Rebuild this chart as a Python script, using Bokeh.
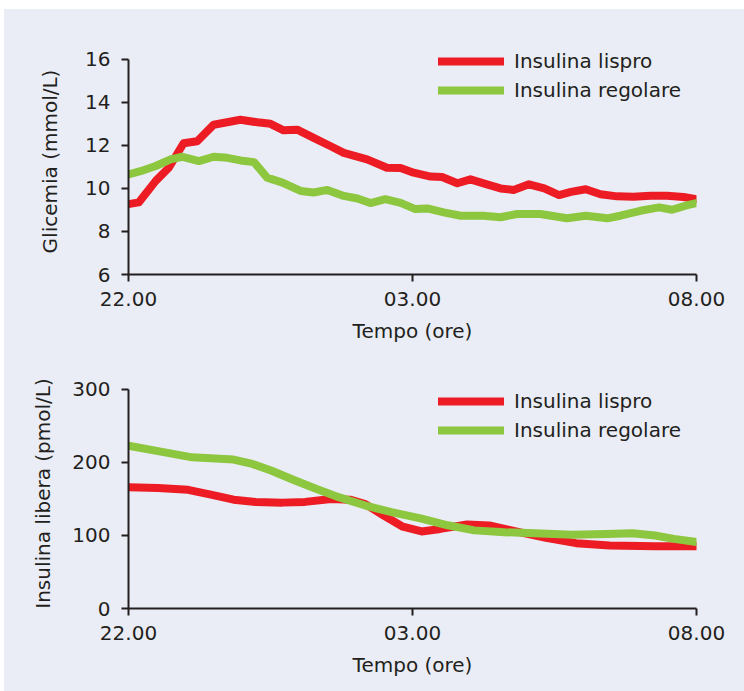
from bokeh.plotting import figure
from bokeh.models import Range1d, FixedTicker, Legend, LegendItem
from bokeh.layouts import column
from bokeh.embed import file_html
from bokeh.resources import INLINE

# ---- data (hours after 22.00) ----
glic_lispro_t = [0, 0.18, 0.48, 0.71, 0.97, 1.21, 1.50, 1.97, 2.27, 2.50, 2.73, 2.97, 3.26, 3.56, 3.79,
                 4.20, 4.55, 4.79, 5.02, 5.32, 5.52, 5.79, 6.02, 6.31, 6.55, 6.78, 7.05, 7.32, 7.58,
                 7.79, 8.05, 8.31, 8.60, 8.89, 9.19, 9.48, 9.77, 10.0]
glic_lispro_v = [9.27, 9.35, 10.35, 10.96, 12.1, 12.19, 12.96, 13.19, 13.07, 13.0, 12.7, 12.73, 12.35,
                 11.96, 11.65, 11.35, 10.96, 10.95, 10.73, 10.55, 10.53, 10.24, 10.42, 10.19, 10.0,
                 9.93, 10.19, 10.0, 9.69, 9.84, 9.96, 9.73, 9.63, 9.61, 9.66, 9.66, 9.6, 9.5]

glic_reg_t = [0, 0.21, 0.48, 0.74, 0.95, 1.24, 1.50, 1.74, 1.97, 2.21, 2.44, 2.71, 3.03, 3.26, 3.50,
              3.79, 4.03, 4.26, 4.52, 4.79, 5.05, 5.26, 5.55, 5.85, 6.25, 6.55, 6.84, 7.25, 7.72,
              8.05, 8.43, 8.66, 9.01, 9.34, 9.57, 9.84, 10.0]
glic_reg_v = [10.65, 10.8, 11.04, 11.35, 11.47, 11.27, 11.47, 11.42, 11.3, 11.22, 10.5, 10.27, 9.88,
              9.81, 9.93, 9.65, 9.53, 9.32, 9.5, 9.33, 9.04, 9.07, 8.89, 8.73, 8.73, 8.66, 8.81,
              8.81, 8.61, 8.73, 8.61, 8.73, 8.96, 9.12, 9.01, 9.22, 9.32]

ins_lispro_t = [0, 0.52, 1.05, 1.45, 1.85, 2.24, 2.71, 3.11, 3.57, 3.90, 4.17, 4.50, 4.83, 5.16,
                5.49, 5.96, 6.35, 6.82, 7.35, 7.88, 8.47, 9.27, 10.0]
ins_lispro_v = [166, 165, 162.5, 156, 149, 146, 145, 146, 150, 149, 143, 127, 112, 105.5,
                109, 115, 113.7, 105.5, 96.8, 89.5, 86.3, 85.3, 85.3]

ins_reg_t = [0, 0.52, 1.12, 1.85, 2.18, 2.51, 2.91, 3.30, 3.70, 4.17, 4.63, 5.16, 5.62, 6.09, 6.62,
             7.15, 7.81, 8.41, 8.87, 9.27, 9.60, 10.0]
ins_reg_v = [223, 215.5, 207, 204, 198, 189, 176, 164, 152.5, 141, 132, 123, 114, 107, 104.5,
             103, 101, 102, 103, 100, 95.4, 91]

x_ticks = [0, 5, 10]
x_tick_labels = ["22.00", "03.00", "08.00"]
glic_ticks = [6, 8, 10, 12, 14, 16]
ins_ticks = [0, 100, 200, 300]
series_names = ["Insulina lispro", "Insulina regolare"]

RED = "#ed1c24"
GREEN = "#8dc63f"
BG = "#eaedf5"
INK = "#231f20"
FONT = "DejaVu Sans"
FS = "20px"


def make_fig(height, top, bottom, yr, ybounds, yticks, ylabel, ylab_standoff):
    p = figure(width=740, height=height, output_backend="svg", toolbar_location=None,
               x_range=Range1d(0, 10), y_range=Range1d(*yr),
               min_border_left=124, min_border_right=48,
               min_border_top=top, min_border_bottom=bottom)
    p.background_fill_color = BG
    p.border_fill_color = BG
    p.outline_line_color = None
    p.xgrid.visible = False
    p.ygrid.visible = False
    p.xaxis.ticker = FixedTicker(ticks=x_ticks)
    p.xaxis.major_label_overrides = {t: l for t, l in zip(x_ticks, x_tick_labels)}
    p.yaxis.ticker = FixedTicker(ticks=yticks)
    p.yaxis.bounds = ybounds
    p.xaxis.axis_label = "Tempo (ore)"
    p.yaxis.axis_label = ylabel
    for ax in (p.xaxis[0], p.yaxis[0]):
        ax.axis_line_color = INK
        ax.axis_line_width = 2
        ax.major_tick_line_color = INK
        ax.major_tick_line_width = 2
        ax.major_tick_out = 7
        ax.major_tick_in = 0
        ax.minor_tick_line_color = None
        ax.major_label_text_font = FONT
        ax.major_label_text_font_size = FS
        ax.major_label_text_color = INK
        ax.axis_label_text_font = FONT
        ax.axis_label_text_font_size = FS
        ax.axis_label_text_color = INK
        ax.axis_label_text_font_style = "normal"
    p.xaxis.major_label_standoff = 10
    p.xaxis.axis_label_standoff = 10
    p.yaxis.major_label_standoff = 11
    p.yaxis.axis_label_standoff = ylab_standoff
    return p


def add_lines(p, t1, v1, t2, v2, legend_y):
    r1 = p.line(t1, v1, line_color=RED, line_width=8, line_join="round", line_cap="round")
    r2 = p.line(t2, v2, line_color=GREEN, line_width=8, line_join="round", line_cap="round")
    leg = Legend(items=[LegendItem(label=series_names[0], renderers=[r1]),
                        LegendItem(label=series_names[1], renderers=[r2])],
                 location=(310, legend_y), glyph_width=66, glyph_height=20,
                 label_standoff=10, spacing=5, padding=0, margin=0,
                 background_fill_alpha=0, border_line_alpha=0,
                 label_text_font=FONT, label_text_font_size=FS, label_text_color=INK)
    p.add_layout(leg, "center")


p1 = make_fig(336, 39, 69, (6, 16.5), (6, 16), glic_ticks, "Glicemia (mmol/L)", 20)
add_lines(p1, glic_lispro_t, glic_lispro_v, glic_reg_t, glic_reg_v, 172)

p2 = make_fig(346, 33, 83, (0, 315), (0, 300), ins_ticks, "Insulina libera (pmol/L)", 14)
add_lines(p2, ins_lispro_t, ins_lispro_v, ins_reg_t, ins_reg_v, 166)

layout = column(p1, p2, spacing=0, margin=(9, 0, 0, 4),
                styles={"background-color": BG})
open("out.html", "w").write(file_html(layout, INLINE))
